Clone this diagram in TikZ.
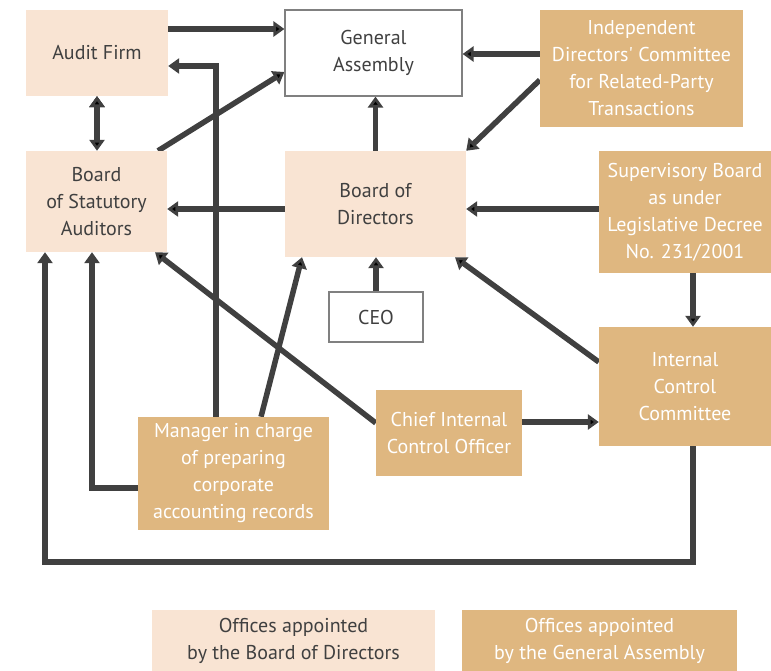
\documentclass[tikz,border=0pt]{standalone}
\usepackage{fontspec}
\setmainfont{PT Sans}
\usetikzlibrary{arrows.meta,backgrounds}
\definecolor{peach}{HTML}{F9E4D3}
\definecolor{sand}{HTML}{DFB780}
\definecolor{ink}{HTML}{404040}

\begin{document}
\begin{tikzpicture}[x=1pt,y=-1pt,font=\fontsize{20}{27}\selectfont,
  >={Triangle[length=11pt,width=15pt]},
  box/.style={align=center,inner sep=0pt,text=ink},
  bd/.style={box,fill=peach},
  ga/.style={box,fill=sand,text=white},
  plain/.style={box,draw=gray,line width=1.2pt,fill=white},
  link/.style={draw=ink,line width=5.5pt}]
  \useasboundingbox (0,0) rectangle (771,671);
  % \draw[help lines] (0,0) grid (771,671);
  \node[bd,minimum width=142pt,minimum height=86pt] (af) at (97,53) {Audit Firm};
  \node[plain,minimum width=177pt,minimum height=86pt] (gen) at (373.5,53) {General\\Assembly};
  \node[ga,minimum width=203pt,minimum height=117pt] (idc) at (641.5,68.5)
    {Independent\\Directors\textquotesingle{} Committee\\for Related-Party\\Transactions};
  \node[bd,minimum width=141pt,minimum height=101pt] (bsa) at (96.5,201.5) {Board\\of Statutory\\Auditors};
  \node[bd,minimum width=181pt,minimum height=106pt] (bod) at (375.5,204) {Board of\\Directors};
  \node[ga,minimum width=172pt,minimum height=122pt] (sb) at (685,212)
    {Supervisory Board\\as under\\Legislative Decree\\No. 231/2001};
  \node[plain,minimum width=94pt,minimum height=50pt] (ceo) at (376,317) {CEO};
  \node[ga,minimum width=172pt,minimum height=119pt] (icc) at (685,386.5) {Internal\\Control\\Committee};
  \node[ga,minimum width=146pt,minimum height=86pt] (cico) at (449,433) {Chief Internal\\Control Officer};
  \node[ga,minimum width=191pt,minimum height=113pt] (mgr) at (233.5,473.5)
    {Manager in charge\\of preparing\\corporate\\accounting records};
  % legend
  \node[bd,minimum width=283pt,minimum height=61pt] (leg1) at (293.5,640.5) {Offices appointed\\by the Board of Directors};
  \node[ga,minimum width=275pt,minimum height=61pt] (leg2) at (599.5,640.5) {Offices appointed\\by the General Assembly};
  \coordinate (low) at (45,562);

  \begin{scope}[on background layer]
  \path[link,->] ([yshift=24pt]af.east) edge ([yshift=24pt]gen.west)
                 ([xshift=61.5pt]bsa.north) edge ([yshift=-19pt]gen.west)
                 (bod.north) edge (bod.north |- gen.south)
                 ([yshift=14.5pt]idc.west) edge ([yshift=-1pt]gen.east)
                 ([yshift=-11.5pt]idc.west) edge (bod.north east)
                 ([yshift=-5pt]bod.west) edge ([yshift=-7.5pt]bsa.east)
                 ([yshift=3pt]sb.west) edge ([yshift=-5pt]bod.east)
                 (ceo.north) edge (ceo.north |- bod.south)
                 ([xshift=8pt]sb.south) edge ([xshift=8pt]icc.north)
                 ([yshift=24.5pt]icc.west) edge ([xshift=79.5pt]bod.south)
                 ([yshift=11pt]cico.east) edge ([yshift=-35.5pt]icc.west)
                 ([yshift=10pt]cico.west) edge ([xshift=58.5pt]bsa.south)
                 ([xshift=27.5pt]mgr.north) edge ([xshift=-73.5pt]bod.south);
  \path[link,<->] (af.south) edge (af.south |- bsa.north);
  \draw[link,->] ([xshift=-17.5pt]mgr.north) |- ([yshift=-13pt]af.east);
  \draw[link,->] ([yshift=-14.5pt]mgr.west) -| ([xshift=-4.5pt]bsa.south);
  \draw[link,->] ([xshift=8pt]icc.south) |- (low) -- (low |- bsa.south);
  \end{scope}
\end{tikzpicture}
\end{document}
